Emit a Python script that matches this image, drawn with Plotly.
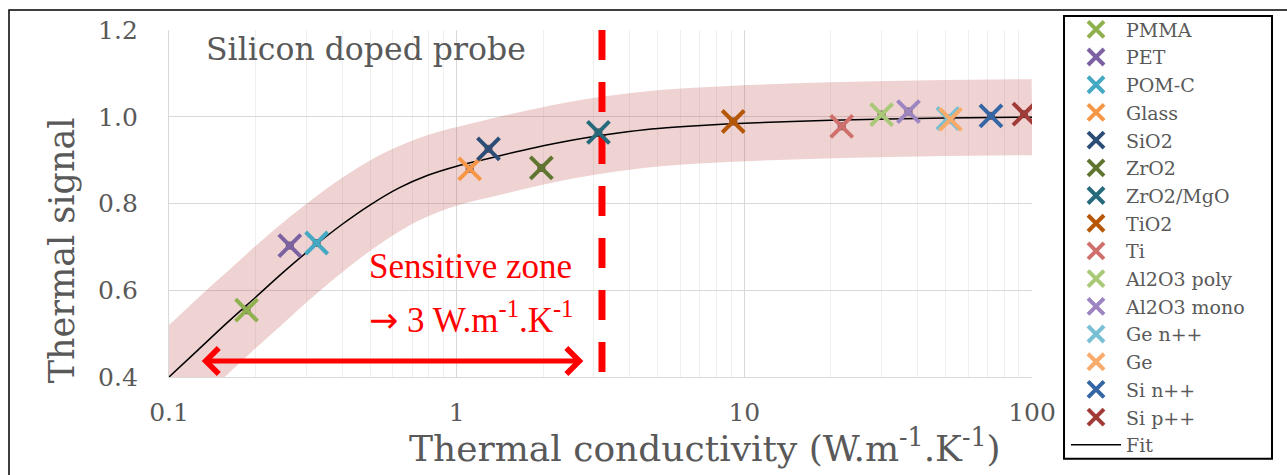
import math
import plotly.graph_objects as go

# ---------------- data ----------------
materials = ["PMMA", "PET", "POM-C", "Glass", "SiO2", "ZrO2", "ZrO2/MgO", "TiO2", "Ti",
             "Al2O3 poly", "Al2O3 mono", "Ge n++", "Ge", "Si n++", "Si p++"]
conductivity = [0.186, 0.263, 0.326, 1.11, 1.29, 1.97, 3.11, 9.15, 21.8,
                30.0, 37.2, 51.0, 52.1, 72.0, 93.8]
signal = [0.554, 0.703, 0.709, 0.880, 0.926, 0.882, 0.964, 0.989, 0.978,
          1.005, 1.012, 0.996, 0.994, 1.002, 1.006]
colors = ["#8FB04F", "#7D62A3", "#45A9C4", "#F79646", "#2C4D75", "#5F7530", "#276A7C",
          "#B65708", "#D0706D", "#A9C878", "#9C85C0", "#78C0D4", "#F9AB6B", "#3465A4", "#A03B38"]

# fit curve
fit_x = [0.1, 0.126, 0.158, 0.2, 0.251, 0.316, 0.398, 0.501, 0.631, 0.794, 1.0, 1.26, 1.585,
         2.0, 2.51, 3.16, 3.98, 5.01, 7.08, 10, 20, 50, 100]
fit_y = [0.400, 0.462, 0.523, 0.584, 0.643, 0.699, 0.751, 0.797, 0.836, 0.865, 0.886, 0.902, 0.918,
         0.933, 0.946, 0.957, 0.966, 0.973, 0.980, 0.985, 0.992, 0.997, 0.999]

x_tickvals = [0.1, 1, 10, 100]
x_ticktext = ["0.1", "1", "10", "100"]
y_tickvals = [0.4, 0.6, 0.8, 1.0, 1.2]
y_ticktext = ["0.4", "0.6", "0.8", "1.0", "1.2"]

sensitive_limit = 3.2
arrow_range = [0.13, 2.79]
arrow_y = 0.437
y_range = [0.4, 1.2]

GRAY = "#595959"
SERIF = "DejaVu Serif"
TIMES = "Liberation Serif"

fig = go.Figure()

# uncertainty band (thick translucent line)
fig.add_trace(go.Scatter(x=fit_x, y=fit_y, mode="lines",
                         line=dict(color="rgba(192,80,77,0.25)", width=76, shape="spline", smoothing=0.8),
                         showlegend=False, hoverinfo="skip"))
# sensitive-zone limit
fig.add_trace(go.Scatter(x=[sensitive_limit, sensitive_limit], y=[y_range[1], y_range[0]], mode="lines",
                         line=dict(color="#FF0000", width=7, dash="30px,22px"), showlegend=False, hoverinfo="skip"))
# fit
fig.add_trace(go.Scatter(x=fit_x, y=fit_y, mode="lines", name="Fit",
                         line=dict(color="black", width=1.5, shape="spline", smoothing=0.8),
                         legendrank=100))
# dark centre squares
fig.add_trace(go.Scatter(x=conductivity, y=signal, mode="markers",
                         marker=dict(symbol="square", size=8, color="rgba(85,60,60,0.85)"),
                         showlegend=False, hoverinfo="skip"))
for i, (m, xv, yv, c) in enumerate(zip(materials, conductivity, signal, colors)):
    fig.add_trace(go.Scatter(x=[xv], y=[yv], mode="markers", name=m, legendrank=i + 1,
                             marker=dict(symbol="x-thin", size=22, line=dict(color=c, width=4), color=c)))

fig.update_layout(
    width=1287, height=475,
    margin=dict(l=169, r=255, t=29, b=98),
    paper_bgcolor="white", plot_bgcolor="white",
    font=dict(family=SERIF, color=GRAY, size=24),
    xaxis=dict(type="log", range=[-1, 2], tickvals=x_tickvals, ticktext=x_ticktext,
               showgrid=True, gridcolor="#D9D9D9", gridwidth=1.3, showline=True, linecolor="#D9D9D9",
               linewidth=1.3, ticks="", ticklabelstandoff=13, zeroline=False,
               tickfont=dict(size=25, family=SERIF, color=GRAY),
               minor=dict(dtick="D1", showgrid=True, gridcolor="#EFEFEF", gridwidth=1.3, ticks="")),
    yaxis=dict(range=y_range, tickvals=y_tickvals, ticktext=y_ticktext,
               showgrid=True, gridcolor="#D9D9D9", gridwidth=1.3, showline=True, linecolor="#D9D9D9",
               linewidth=1.3, ticks="", ticklabelstandoff=25, zeroline=False,
               tickfont=dict(size=25, family=SERIF, color=GRAY)),
    legend=dict(x=1.0394, y=1.0532, xanchor="left", yanchor="top", borderwidth=0,
                font=dict(family=SERIF, size=19, color=GRAY), itemwidth=50, traceorder="normal",
                itemsizing="trace", bgcolor="rgba(255,255,255,0)", tracegroupgap=0, maxheight=470),
    showlegend=True,
)

annotations = [
    dict(text="Thermal signal", xref="paper", yref="paper", x=-0.124, y=0.365, textangle=-90,
         showarrow=False, font=dict(family=SERIF, size=35, color=GRAY), xanchor="center", yanchor="middle"),
    dict(text="Thermal conductivity (W.m<sup>-1</sup>.K<sup>-1</sup>)", xref="paper", yref="paper",
         x=0.621, y=-0.198, showarrow=False, font=dict(family=SERIF, size=36, color=GRAY),
         xanchor="center", yanchor="middle"),
    dict(text="Silicon doped probe", xref="paper", yref="paper", x=0.041, y=0.945, showarrow=False,
         font=dict(family=SERIF, size=31.5, color=GRAY), xanchor="left", yanchor="middle"),
    dict(text="Sensitive zone", xref="paper", yref="paper", x=0.2294, y=0.319, showarrow=False,
         font=dict(family=TIMES, size=35, color="#FF0000"), xanchor="left", yanchor="middle"),
    dict(text="<span style='font-family:DejaVu Sans'>\u2192</span> 3 W.m<sup>-1</sup>.K<sup>-1</sup>",
         xref="paper", yref="paper", x=0.2294, y=0.172,
         showarrow=False, font=dict(family=TIMES, size=35, color="#FF0000"), xanchor="left", yanchor="middle"),
    dict(text="", x=math.log10(arrow_range[0]), y=arrow_y, ax=math.log10(arrow_range[1]), ay=arrow_y,
         xref="x", yref="y", axref="x", ayref="y", showarrow=True, arrowside="end+start",
         arrowhead=4, startarrowhead=4, arrowsize=1, startarrowsize=1, arrowwidth=5, arrowcolor="#FF0000",
         standoff=0, startstandoff=0),
]
fig.update_layout(annotations=annotations)

# legend frame
fig.add_shape(type="rect", xref="paper", yref="paper", x0=1.0371, x1=1.2781, y0=-0.2356, y1=1.0402,
              line=dict(color="black", width=2), fillcolor="rgba(0,0,0,0)", layer="above")
# outer chart frame
fig.add_shape(type="rect", xref="paper", yref="paper", x0=-0.1854, x1=1.31, y0=-0.35, y1=1.0575,
              line=dict(color="black", width=1.5), fillcolor="rgba(0,0,0,0)", layer="above")

fig.write_html("out.html", config={"displayModeBar": False},
               post_script="document.body.style.margin='0';document.body.style.padding='0';")
